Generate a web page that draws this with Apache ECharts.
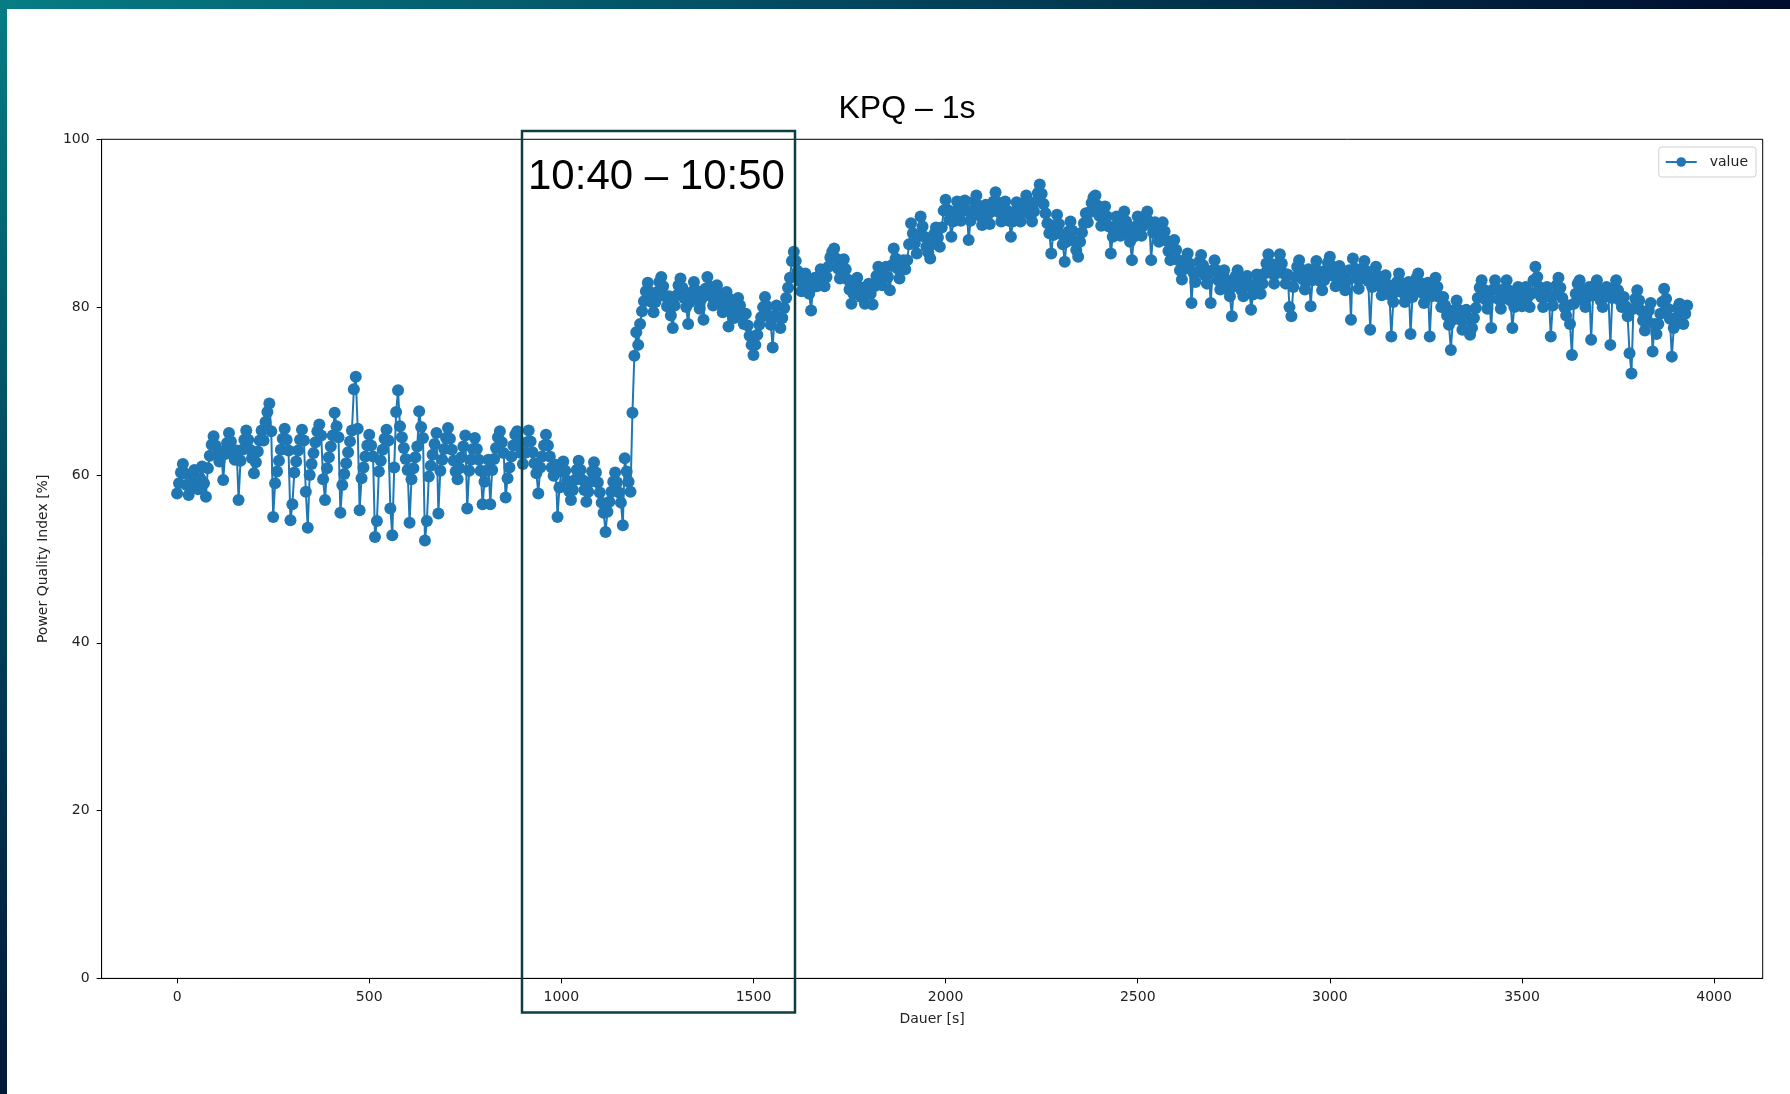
<!DOCTYPE html>
<html><head><meta charset="utf-8">
<script src="https://cdn.jsdelivr.net/npm/echarts@6/dist/echarts.min.js"></script>
<style>html,body{margin:0;padding:0;background:#fff}#c{width:1790px;height:1094px}</style>
</head><body><div id="c"></div>
<script>
// sampling interval of the read-off values, seconds
const STEP = 5;
// Power Quality Index [%], read every 5 s (one row = 100 s)
const seg0 = [ // 0-495 s
  57.8, 59, 60.3, 61.3, 60.2, 58.8, 57.6, 58.7, 59.8, 60.6, 59.5, 58.3, 59.6, 61, 59, 57.4, 60.8, 62.3, 63.6, 64.6,
  63.5, 62.3, 61.6, 62.8, 59.4, 62.5, 63.8, 65, 64, 62.8, 61.8, 62.9, 57, 61.7, 63, 64.2, 65.3, 64.2, 63, 62,
  60.2, 61.5, 62.8, 64.1, 65.3, 64.1, 66.3, 67.5, 68.5, 65.2, 55, 59, 60.4, 61.7, 63, 64.3, 65.5, 64.2, 62.9, 54.6,
  56.5, 60.3, 61.6, 62.9, 64.2, 65.4, 64.1, 58, 53.7, 60, 61.3, 62.6, 63.9, 65.2, 66, 64.7, 59.5, 57, 60.8, 62.1,
  63.4, 64.7, 67.4, 65.8, 64.5, 55.5, 58.8, 60.1, 61.4, 62.7, 64, 65.3, 70.2, 71.7, 65.5, 55.8, 59.6, 60.9, 62.2, 63.5];
const seg1 = [ // 500-995 s
  64.8, 63.5, 62.2, 52.6, 54.5, 60.4, 61.7, 63, 64.3, 65.4, 64.1, 56, 52.8, 60.9, 67.5, 70.1, 65.8, 64.5, 63.2, 61.9,
  60.6, 54.3, 59.5, 60.8, 62.1, 63.4, 67.6, 65.7, 64.4, 52.2, 54.5, 59.8, 61.1, 62.4, 63.7, 65, 55.4, 60.5, 61.8, 63.1,
  64.4, 65.6, 64.3, 63, 61.7, 60.4, 59.5, 60.8, 62.1, 63.4, 64.7, 56, 60.5, 61.8, 63.1, 64.4, 63.1, 61.8, 60.5, 56.5,
  59.2, 60.5, 61.8, 56.5, 60.6, 61.9, 63.2, 64.5, 65.2, 63.9, 62.6, 57.3, 59.6, 60.9, 62.2, 63.5, 64.8, 65.2, 63.9, 62.6,
  61.3, 62.6, 63.9, 65.3, 64, 62.7, 61.4, 60.2, 57.8, 60.9, 62.2, 63.5, 64.8, 63.5, 62.2, 60.9, 59.9, 61.2, 55, 58.5];
const seg2 = [ // 1000-1495 s
  60.4, 61.6, 60.5, 59.3, 58.1, 57, 58.2, 59.4, 60.6, 61.7, 60.6, 59.4, 58.2, 56.8, 58, 59.2, 60.4, 61.5, 60.3, 59.1,
  57.9, 56.7, 55.5, 53.2, 55.6, 56.8, 58, 59.2, 60.3, 59.1, 57.9, 56.7, 54, 62, 60.4, 59.2, 58, 67.4, 74.2, 77,
  75.5, 78, 79.5, 80.7, 81.9, 82.9, 81.8, 80.6, 79.4, 80.6, 81.8, 83, 83.6, 82.5, 81.3, 80.1, 81.3, 79, 77.5, 80.2,
  81.4, 82.6, 83.4, 82.3, 81.1, 80, 78, 80.6, 81.8, 83, 82, 80.9, 79.8, 81, 78.5, 82.2, 83.6, 82.5, 81.3, 80.2,
  81.4, 82.6, 81.5, 80.3, 79.4, 80.6, 81.8, 77.7, 80.9, 79.8, 78.7, 79.9, 81.1, 80.2, 79.1, 78, 79.2, 77.8, 76.6, 75.5];
const seg3 = [ // 1500-1995 s
  74.3, 75.5, 76.7, 77.9, 78.8, 80, 81.2, 80.1, 78.9, 77.9, 75.2, 79, 80.2, 78.8, 77.5, 78.7, 79.9, 81.1, 82.3, 83.5,
  85.5, 86.6, 85.5, 84.3, 83.1, 81.9, 82.9, 84, 82.8, 81.6, 79.6, 82.4, 83.5, 82.5, 83.6, 84.5, 83.4, 82.5, 83.6, 84.8,
  85.9, 86.6, 87, 85.8, 84.6, 83.4, 84.6, 85.7, 84.5, 83.3, 82.1, 80.4, 81.6, 82.8, 83.5, 82.4, 81.2, 82.3, 80.4, 81.6,
  82.8, 81.6, 80.3, 82.5, 83.7, 84.8, 83.7, 82.6, 83.8, 84.8, 83.6, 82, 85, 87, 85.8, 84.6, 83.4, 84.6, 85.6, 84.5,
  85.6, 87.5, 90, 88.8, 87.6, 86.4, 88.5, 90.8, 89.6, 88.4, 87.2, 86.5, 85.8, 87.5, 88.7, 89.5, 88.3, 87.2, 89.5, 91.5];
const seg4 = [ // 2000-2495 s
  92.8, 91.6, 90.4, 88.4, 90.2, 91.4, 92.6, 91.5, 90.3, 91.5, 92.7, 91.5, 88, 90.3, 91.5, 92.6, 93.3, 92.1, 90.9, 89.8,
  91, 92.2, 91, 89.9, 91.4, 92.6, 93.7, 92.5, 91.3, 90.2, 91.4, 92.6, 91.5, 90.3, 88.4, 90.2, 91.4, 92.5, 91.4, 90.2,
  91.4, 92.4, 93.3, 92.2, 91, 90.2, 91.4, 92.6, 93.6, 94.6, 93.5, 92.3, 91.2, 90, 88.8, 86.4, 88.6, 89.8, 91, 89.9,
  88.7, 87.5, 85.4, 87.8, 89, 90.2, 89.1, 87.9, 86.8, 86, 87.8, 88.9, 90, 91.2, 90.1, 91.3, 92.4, 93.1, 93.3, 92.1,
  90.9, 89.7, 90.9, 92, 90.8, 89.6, 86.4, 88.4, 89.6, 90.8, 89.7, 88.5, 90, 91.4, 90.2, 89, 87.8, 85.6, 88.4, 89.6];
const seg5 = [ // 2500-2995 s
  90.8, 89.7, 88.5, 89.7, 90.9, 91.4, 90.2, 85.6, 88.9, 90.1, 89, 87.8, 88.9, 90.1, 89, 87.9, 86.7, 85.6, 86.8, 88,
  86.8, 85.6, 84.4, 83.3, 84.5, 85.7, 86.4, 85.2, 80.5, 84.1, 83, 84.2, 85.4, 86.2, 85, 83.8, 82.8, 84, 80.5, 84.4,
  85.6, 84.4, 83.2, 82.1, 83.3, 84.4, 83.3, 82.1, 81.3, 78.9, 82.5, 83.7, 84.4, 83.2, 82, 81.3, 82.5, 83.7, 82.6, 79.7,
  81.5, 82.7, 83.9, 82.8, 81.6, 82.8, 84, 85.2, 86.3, 85.2, 84, 82.8, 84, 85.2, 86.3, 85.2, 84, 82.8, 83.9, 80,
  78.9, 82.4, 83.6, 84.8, 85.6, 84.5, 83.3, 82.1, 83.3, 84.5, 80.1, 83.2, 84.4, 85.5, 84.3, 83.1, 82, 83.2, 84.4, 85.3];
const seg6 = [ // 3000-3495 s
  86, 84.9, 83.7, 82.5, 83.7, 84.9, 84, 82.8, 82, 83.2, 84.4, 78.5, 85.8, 84.6, 83.4, 82.2, 83.4, 84.6, 85.5, 84.3,
  83.1, 77.3, 82.4, 83.6, 84.8, 83.7, 82.5, 81.4, 82.6, 83.8, 82.7, 81.5, 76.5, 80.6, 81.8, 83, 84, 82.9, 81.7, 80.6,
  81.8, 83, 76.8, 81.2, 82.4, 83.4, 84, 82.9, 81.7, 80.5, 81.7, 82.9, 76.5, 81.3, 82.5, 83.5, 82.4, 81.2, 80, 81.2,
  80.2, 79, 77.9, 74.9, 78.5, 79.7, 80.8, 79.7, 78.5, 77.3, 78.5, 79.7, 78.6, 76.7, 77.5, 78.7, 79.9, 81.1, 82.3, 83.2,
  82.1, 80.9, 79.8, 81, 77.5, 82.1, 83.2, 82.1, 80.9, 79.8, 81, 82.2, 83.2, 82, 80.8, 77.5, 80, 81.2, 82.4, 81.3];
const seg7 = [ // 3500-3930 s
  80.1, 81.3, 82.4, 81.2, 80, 81.6, 83.2, 84.8, 83.6, 82.4, 81.2, 80, 81.2, 82.4, 81.3, 76.5, 80.2, 81.4, 82.6, 83.5,
  82.3, 81.1, 80, 79, 80.2, 78, 74.3, 80.4, 81.6, 82.8, 83.2, 82, 80.8, 80, 81.2, 82.4, 76.1, 81.4, 82.6, 83.2,
  82, 80.8, 80, 81.2, 82.4, 81.3, 75.5, 81.1, 82.2, 83.2, 82, 80.8, 80, 81.2, 80.1, 78.9, 74.5, 72.1, 79.8, 81,
  82, 80.8, 79.6, 78.4, 77.2, 78.4, 79.6, 80.5, 74.7, 78, 76.8, 78, 79.2, 80.6, 82.2, 81, 79.8, 78.6, 74.1, 77.5,
  78.7, 79.9, 80.4, 79.2, 78, 79.2, 80.2];

const xTicks = [0, 500, 1000, 1500, 2000, 2500, 3000, 3500, 4000];
const yTicks = [0, 20, 40, 60, 80, 100];
const titleText = 'KPQ – 1s';
const boxText = '10:40 – 10:50';
const seriesName = 'value';

const values = [].concat(seg0, seg1, seg2, seg3, seg4, seg5, seg6, seg7);
const data = values.map((v, i) => [i * STEP, v]);

const chart = echarts.init(document.getElementById('c'), null, {renderer: 'canvas'});
const tickFont = {fontFamily: 'DejaVu Sans', fontSize: 14, color: '#222'};
chart.setOption({
  animation: false,
  backgroundColor: '#ffffff',
  grid: {left: 101.6, right: 27.3, top: 139.3, bottom: 115.6, show: true,
         borderColor: '#000', borderWidth: 1, backgroundColor: 'transparent'},
  legend: {
    data: [seriesName], right: 34, top: 147, orient: 'horizontal',
    padding: [8, 8, 8, 6], itemWidth: 31, itemHeight: 12,
    backgroundColor: '#fff', borderColor: '#d0d0d0', borderWidth: 1, borderRadius: 3,
    textStyle: {fontFamily: 'DejaVu Sans', fontSize: 14, color: '#222', padding: [0, 0, 0, 8]}
  },
  xAxis: {
    type: 'value', min: -196.5, max: 4126.5,
    axisLine: {show: true, onZero: false, lineStyle: {color: '#000', width: 1}},
    axisTick: {show: true, customValues: xTicks, length: 5, lineStyle: {color: '#000'}},
    axisLabel: Object.assign({customValues: xTicks, margin: 12, formatter: v => String(v)}, tickFont),
    splitLine: {show: false},
    name: 'Dauer [s]', nameLocation: 'middle', nameGap: 34, nameTextStyle: tickFont
  },
  yAxis: {
    type: 'value', min: 0, max: 100, interval: 20,
    axisLine: {show: true, onZero: false, lineStyle: {color: '#000', width: 1}},
    axisTick: {show: true, length: 5, lineStyle: {color: '#000'}},
    axisLabel: Object.assign({customValues: yTicks, margin: 12, formatter: v => String(v)}, tickFont),
    splitLine: {show: false},
    name: 'Power Quality Index [%]', nameLocation: 'middle', nameGap: 51, nameRotate: 90,
    nameTextStyle: tickFont
  },
  series: [{
    name: seriesName, type: 'line', data: data,
    symbol: 'circle', symbolSize: 12, showSymbol: true, showAllSymbol: true,
    lineStyle: {width: 2, color: '#1f77b4'}, itemStyle: {color: '#1f77b4'},
    emphasis: {disabled: true}, silent: true
  }],
  graphic: [
    {type: 'rect', shape: {x: 0, y: 0, width: 1790, height: 9}, silent: true,
     style: {fill: new echarts.graphic.LinearGradient(0, 0, 1, 0, [
       {offset: 0, color: '#067c83'}, {offset: 0.45, color: '#034a60'}, {offset: 1, color: '#000c2c'}])}},
    {type: 'rect', shape: {x: 0, y: 0, width: 7, height: 1094}, silent: true,
     style: {fill: new echarts.graphic.LinearGradient(0, 0, 0, 1, [
       {offset: 0, color: '#067c83'}, {offset: 0.5, color: '#03445c'}, {offset: 1, color: '#001838'}])}},
    {type: 'text', x: 907, y: 109.5, silent: true,
     style: {text: titleText, fontFamily: 'Liberation Sans', fontSize: 32, fill: '#000',
             textAlign: 'center', textVerticalAlign: 'middle'}},
    {type: 'rect', z: 100, shape: {x: 522, y: 131, width: 273, height: 881.6}, silent: true,
     style: {fill: 'none', stroke: '#0d3f40', lineWidth: 2.5}},
    {type: 'text', z: 100, x: 528, y: 177, silent: true,
     style: {text: boxText, fontFamily: 'Liberation Sans', fontSize: 42, fill: '#000',
             textAlign: 'left', textVerticalAlign: 'middle'}}
  ]
});
</script>
</body></html>
